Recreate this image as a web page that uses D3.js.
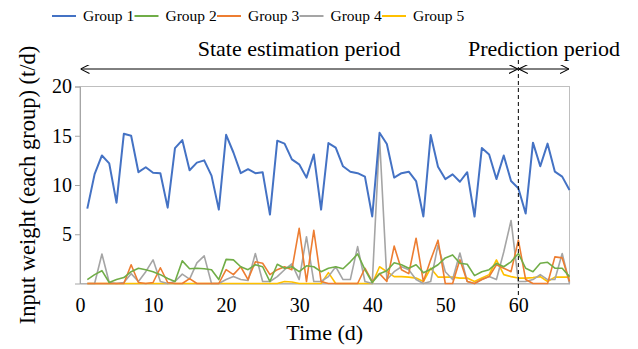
<!DOCTYPE html>
<html>
<head>
<meta charset="utf-8">
<script src="https://cdn.jsdelivr.net/npm/d3@7"></script>
<style>
  body { margin: 0; background: #fff; }
</style>
</head>
<body>
<div id="chart"></div>
<script>
// days 1..67, values
const days = d3.range(1, 68);
const groupNames = ['Group 1', 'Group 2', 'Group 3', 'Group 4', 'Group 5'];
const groupColors = ['#4472c4', '#70ad47', '#ed7d31', '#a5a5a5', '#ffc000'];

const group1 = [7.6, 11.1, 13.0, 12.2, 8.2, 15.2, 15.0, 11.3, 11.8, 11.25,
  11.2, 7.7, 13.75, 14.56, 11.5, 12.27, 12.5, 10.95, 7.5, 15.1,
  13.3, 11.2, 11.6, 11.2, 11.3, 7.0, 14.5, 14.2, 12.6, 12.1,
  10.75, 13.1, 7.5, 14.26, 13.8, 11.9, 11.35, 11.2, 10.85, 6.8,
  15.3, 14.16, 10.75, 11.2, 11.35, 10.4, 6.8, 15.07, 11.86, 10.6,
  11.08, 10.33, 11.3, 6.8, 13.75, 13.1, 10.6, 13.0, 10.4, 9.67,
  7.1, 14.3, 11.9, 14.2, 11.35, 10.85, 9.5];
const group2 = [0.4, 0.9, 1.3, 0.1, 0.4, 0.6, 1.2, 1.55, 1.4, 1.2,
  0.9, 0.5, 0.2, 2.3, 1.5, 1.55, 1.5, 1.4, 0.4, 2.45,
  2.4, 1.7, 1.4, 1.9, 1.7, 0.2, 1.95, 1.55, 1.7, 1.2,
  1.8, 1.7, 1.2, 1.55, 1.7, 1.5, 2.2, 3.0, 1.4, 0.1,
  1.0, 1.3, 2.1, 1.9, 1.55, 1.9, 1.1, 1.45, 1.9, 2.6,
  2.9, 2.05, 1.95, 0.8, 1.2, 1.4, 2.05, 1.7, 2.2, 3.05,
  1.55, 1.2, 2.05, 2.15, 1.55, 1.55, 0.7];
const group3 = [0, 0, 0, 0, 0, 0, 1.9, 0.1, 0, 0.1,
  1.6, 0.1, 0, 0, 0.5, 0, 0, 0, 0, 1.4,
  0.9, 1.7, 0.4, 2.2, 2.05, 0.9, 1.4, 1.7, 1.4, 5.6,
  0.2, 5.4, 0.2, 0, 0, 0, 0, 0, 1.55, 0.2,
  1.0, 0.2, 3.8, 1.4, 1.0, 4.6, 0.2, 2.4, 4.4, 0,
  0, 2.4, 0.2, 0, 0.4, 0.7, 1.9, 1.55, 1.2, 4.4,
  0.4, 0, 0, 0, 2.7, 2.6, 0.2];
const group4 = [0, 0, 3.0, 0.1, 0, 0.1, 1.0, 0.2, 1.2, 2.4,
  0.2, 0, 0.2, 0.95, 0.45, 2.1, 2.8, 0, 0, 0.4,
  0.7, 0.4, 0.3, 3.05, 0.2, 0.2, 0.7, 1.4, 2.0, 0.4,
  4.75, 0.2, 0.2, 0.7, 1.7, 0.4, 0.4, 3.75, 0.2, 0,
  14.8, 0.4, 1.2, 1.7, 1.4, 0.4, 0, 0.2, 3.9, 1.2,
  0.4, 3.1, 0.2, 0, 0.4, 0.7, 0.4, 3.2, 6.4, 0.2,
  0.2, 0.4, 0.9, 0.4, 0.4, 3.05, 0];
const group5 = [0, 0, 0, 0, 0, 0, 0, 0, 0, 0,
  0, 0, 0, 0, 0, 0, 0, 0, 0, 0,
  0, 0, 0, 0, 0, 0, 0, 0.2, 0.15, 0,
  0, 0, 0, 1.1, 0, 0, 0, 0, 0, 0,
  1.7, 1.2, 0.7, 0.7, 0.65, 0.55, 0.2, 1.55, 0.65, 0.65,
  0.65, 0.55, 0.55, 0.2, 0.55, 0.9, 2.4, 0.9, 0.7, 0.55,
  0.55, 0.6, 0.7, 0.2, 0.65, 0.65, 0.65];

const xTicks = [0, 10, 20, 30, 40, 50, 60];
const yTicks = [5, 10, 15, 20];
const splitDay = 60;

const series = [group1, group2, group3, group4, group5];

const FONT = '"Liberation Serif", "Times New Roman", serif';
const width = 638, height = 349;
const plot = {left: 80, right: 569.5, top: 86.5, bottom: 283.5};

const svg = d3.select('#chart').append('svg')
  .attr('width', width)
  .attr('height', height)
  .attr('font-family', FONT);

const x = d3.scaleLinear().domain([0, 67]).range([plot.left, plot.right]);
const y = d3.scaleLinear().domain([0, 20]).range([plot.bottom, plot.top]);

// frame
svg.append('rect')
  .attr('x', plot.left).attr('y', plot.top)
  .attr('width', plot.right - plot.left)
  .attr('height', plot.bottom - plot.top)
  .attr('fill', 'none')
  .attr('stroke', '#bfbfbf')
  .attr('stroke-width', 1);

// y axis
const yAxis = svg.append('g')
  .attr('transform', `translate(${plot.left},0)`)
  .call(d3.axisLeft(y).tickValues(yTicks).tickSize(5).tickPadding(3));
yAxis.attr('font-family', FONT).attr('font-size', 20);
yAxis.select('.domain').attr('stroke', '#a6a6a6');
yAxis.selectAll('.tick line').attr('stroke', '#a6a6a6');
yAxis.selectAll('.tick text').attr('fill', '#000');

// x axis
const xAxis = svg.append('g')
  .attr('transform', `translate(0,${plot.bottom})`)
  .call(d3.axisBottom(x).tickValues(xTicks).tickSize(0).tickPadding(14));
xAxis.attr('font-family', FONT).attr('font-size', 20);
xAxis.select('.domain').attr('stroke', '#a6a6a6');
xAxis.selectAll('.tick text').attr('fill', '#000');

// lines
const line = d3.line()
  .x((d, i) => x(days[i]))
  .y(d => y(d));

svg.append('g')
  .selectAll('path')
  .data(series.map((s, i) => ({values: s, i})).reverse())
  .join('path')
    .attr('d', d => line(d.values))
    .attr('fill', 'none')
    .attr('stroke', d => groupColors[d.i])
    .attr('stroke-width', d => d.i === 0 ? 2 : 1.6)
    .attr('stroke-linejoin', 'round');

// period divider
svg.append('line')
  .attr('x1', x(splitDay)).attr('x2', x(splitDay))
  .attr('y1', 60).attr('y2', 298)
  .attr('stroke', '#000')
  .attr('stroke-width', 1)
  .attr('stroke-dasharray', '4,3');

// arrows
const defs = svg.append('defs');
defs.append('marker')
  .attr('id', 'head')
  .attr('viewBox', '0 0 10 10')
  .attr('refX', 10).attr('refY', 5)
  .attr('markerWidth', 9).attr('markerHeight', 9)
  .attr('markerUnits', 'userSpaceOnUse')
  .attr('orient', 'auto-start-reverse')
  .append('path')
    .attr('d', 'M0,0 L10,5 L0,10')
    .attr('fill', 'none')
    .attr('stroke', '#000')
    .attr('stroke-width', 1.2);

const arrowY = 69;
[[0, splitDay], [splitDay, 67]].forEach(([a, b]) => {
  svg.append('line')
    .attr('x1', x(a) + 0.5).attr('x2', x(b) - 0.5)
    .attr('y1', arrowY).attr('y2', arrowY)
    .attr('stroke', '#000')
    .attr('stroke-width', 1)
    .attr('marker-start', 'url(#head)')
    .attr('marker-end', 'url(#head)');
});

svg.append('text')
  .attr('x', (x(0) + x(splitDay)) / 2)
  .attr('y', 56)
  .attr('text-anchor', 'middle')
  .attr('font-size', 22)
  .text('State estimation period');

svg.append('text')
  .attr('x', 544)
  .attr('y', 56)
  .attr('text-anchor', 'middle')
  .attr('font-size', 22)
  .text('Prediction period');

// axis titles
svg.append('text')
  .attr('x', (plot.left + plot.right) / 2)
  .attr('y', 340)
  .attr('text-anchor', 'middle')
  .attr('font-size', 22)
  .text('Time (d)');

svg.append('text')
  .attr('transform', `translate(35,${(plot.top + plot.bottom) / 2}) rotate(-90)`)
  .attr('text-anchor', 'middle')
  .attr('font-size', 22.5)
  .text('Input weight (each group) (t/d)');

// legend
const legend = svg.append('g')
  .selectAll('g')
  .data(groupNames)
  .join('g')
    .attr('transform', (d, i) => `translate(${52 + i * 82.5},16)`);

legend.append('line')
  .attr('x1', 0).attr('x2', 24)
  .attr('stroke', (d, i) => groupColors[i])
  .attr('stroke-width', 2);

legend.append('text')
  .attr('x', 31)
  .attr('dy', '0.35em')
  .attr('font-size', 15.5)
  .text(d => d);
</script>
</body>
</html>
